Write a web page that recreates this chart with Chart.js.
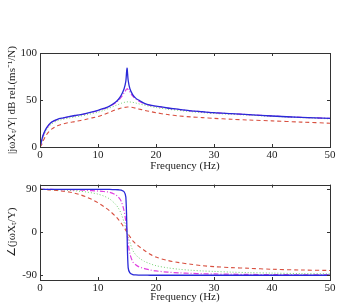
<!DOCTYPE html>
<html>
<head>
<meta charset="utf-8">
<script src="https://cdn.jsdelivr.net/npm/chart.js@4.4.1/dist/chart.umd.min.js"></script>
<style>
  body { margin: 0; background: #fff; }
  canvas { position: absolute; left: 0; }
  #magChart { top: 0; }
  #phaseChart { top: 175px; }
</style>
</head>
<body>
<canvas id="magChart" width="338" height="175"></canvas>
<canvas id="phaseChart" width="338" height="131"></canvas>
<script>
// Frequency points (Hz)
const freq = [0, 0.25, 0.5, 1, 1.5, 2, 3, 4, 5, 6, 7, 8, 9, 10, 11, 12, 13, 13.5, 14, 14.5, 14.8, 15, 15.2, 15.5, 16, 16.5, 17, 18, 19, 20, 22, 24, 26, 28, 30, 33, 36, 40, 45, 50];

// Magnitude, dB
const magBlue = [0, 6, 12, 19, 23.5, 26.5, 29.5, 31, 32.3, 33.5, 34.5, 35.8, 37.3, 39, 41, 43.5, 47.5, 50.5, 55, 62, 70, 84, 71, 62, 55.5, 52, 50, 46.5, 44.5, 43.5, 41.5, 40, 38.5, 37.5, 36.5, 35.5, 34.5, 33, 31.5, 30.5];
const magMagenta = [0, 5.5, 11.5, 18.5, 23, 26, 29.2, 30.8, 32.1, 33.3, 34.3, 35.6, 37.1, 38.8, 40.7, 43.2, 46.8, 49.3, 53, 57.5, 60.5, 62, 61, 58.5, 54, 51, 49, 46, 44.3, 43.3, 41.4, 39.9, 38.4, 37.4, 36.4, 35.4, 34.4, 33, 31.5, 30.5];
const magGreen = [0, 4, 9.5, 17, 21.5, 24.5, 27.8, 29.5, 30.8, 32, 33, 34.2, 35.6, 37, 39, 41.5, 44, 45.2, 46.5, 47.4, 47.8, 48, 48, 47.9, 47.5, 46.8, 46, 44.5, 43.2, 42, 40.2, 38.9, 37.6, 36.6, 35.7, 34.8, 33.9, 32.6, 31.2, 30];
const magRed = [0, 2, 6, 12, 16, 19, 22.5, 24.5, 26, 27, 28.2, 29.5, 31, 32.5, 34.5, 37, 39.5, 40.5, 41.5, 42, 42.3, 42.5, 42.5, 42.4, 42, 41.3, 40.5, 39, 37.7, 36.5, 34.5, 33, 32, 31.3, 30.5, 29.5, 28.7, 27.8, 26.5, 25.3];

// Phase, degrees
const phaseBlue = [90, 90, 90, 90, 90, 90, 90, 90, 90, 90, 90, 90, 90, 90, 90, 89.8, 89.5, 89.2, 88.5, 85, 74, 0, -74, -85, -88.5, -89.3, -89.6, -89.8, -90, -90, -90, -90, -90, -90, -90, -90, -90, -90, -90, -90];
const phaseMagenta = [90, 90, 90, 90, 90, 89.8, 89.7, 89.5, 89.3, 89, 88.6, 88, 87.3, 86.5, 85.5, 84, 79, 74, 65, 45, 22, 0, -22, -45, -62, -68, -72, -76, -79, -81, -83.5, -85, -86, -86.8, -87.3, -87.8, -88.3, -88.8, -89, -89.3];
const phaseGreen = [90, 90, 90, 89.8, 89.6, 89.5, 89, 88.5, 87.8, 87, 86, 84.5, 82.5, 80, 76, 70, 59, 51, 39, 21, 9, 0, -9, -21, -38, -47, -53, -61, -66, -70, -74.5, -77.5, -79.5, -81, -82, -83.5, -84.5, -85.5, -86.5, -87];
const phaseRed = [90, 90, 89.8, 89.5, 89, 88.5, 87.5, 86, 84.5, 82, 78.5, 74, 68.5, 62, 54, 45, 34, 27, 19, 10, 4, 0, -4, -9, -18, -24, -29, -38, -46, -52, -59, -63.5, -67, -70, -72, -74, -75.5, -77.5, -79, -80];

const xTicks = [0, 10, 20, 30, 40, 50];
const magTicks = [0, 50, 100];
const phaseTicks = [-90, 0, 90];

const serif = 'Liberation Serif';
const ink = '#222';

function pts(ys) {
    return freq.map((f, i) => ({ x: f, y: ys[i] }));
}

function makeSets(b, m, g, r) {
    return [
        { data: pts(b), borderColor: '#2a2ad8', borderWidth: 1.3 },
        { data: pts(m), borderColor: '#e040e0', borderWidth: 1.2, borderDash: [5, 2, 1, 2] },
        { data: pts(g), borderColor: '#70d070', borderWidth: 1, borderDash: [1, 2] },
        { data: pts(r), borderColor: '#d85040', borderWidth: 1.1, borderDash: [4, 3] }
    ];
}

// Box round the plot area with inward ticks, MATLAB style
const frame = {
    id: 'frame',
    afterDatasetsDraw(chart) {
        const { ctx, chartArea: a, scales } = chart;
        ctx.save();
        ctx.strokeStyle = '#333';
        ctx.lineWidth = 1;
        ctx.strokeRect(Math.round(a.left) + 0.5, Math.round(a.top) + 0.5,
            Math.round(a.right - a.left), Math.round(a.bottom - a.top));
        ctx.beginPath();
        scales.x.ticks.forEach(t => {
            const px = Math.round(scales.x.getPixelForValue(t.value)) + 0.5;
            ctx.moveTo(px, a.bottom); ctx.lineTo(px, a.bottom - 3);
            ctx.moveTo(px, a.top); ctx.lineTo(px, a.top + 3);
        });
        scales.y.ticks.forEach(t => {
            const py = Math.round(scales.y.getPixelForValue(t.value)) + 0.5;
            ctx.moveTo(a.left, py); ctx.lineTo(a.left + 3, py);
            ctx.moveTo(a.right, py); ctx.lineTo(a.right - 3, py);
        });
        ctx.stroke();
        ctx.restore();
    }
};

function makeOptions(yMin, yMax, yTicks, yTitle, padTop, xHeight) {
    return {
        responsive: false,
        animation: false,
        layout: { padding: { top: padTop, right: 8, left: 6, bottom: 0 } },
        elements: { point: { radius: 0 }, line: { tension: 0.3, fill: false } },
        plugins: { legend: { display: false }, tooltip: { enabled: false } },
        scales: {
            x: {
                type: 'linear', min: 0, max: 50,
                afterBuildTicks: s => { s.ticks = xTicks.map(v => ({ value: v })); },
                afterFit: s => { s.height = xHeight; },
                grid: { display: false, drawTicks: false },
                border: { display: false },
                ticks: { padding: 2, color: ink, font: { family: serif, size: 11 } },
                title: { display: true, text: 'Frequency (Hz)', color: ink,
                    font: { family: serif, size: 11 }, padding: { top: 0, bottom: 2 } }
            },
            y: {
                min: yMin, max: yMax,
                afterBuildTicks: s => { s.ticks = yTicks.map(v => ({ value: v })); },
                afterFit: s => { s.width = 34; },
                grid: { display: false, drawTicks: false },
                border: { display: false },
                ticks: { padding: 3, color: ink, font: { family: serif, size: 11 },
                    callback: v => String(v) },
                title: { display: true, text: yTitle, color: ink,
                    font: { family: serif, size: 11 }, padding: 0 }
            }
        }
    };
}

new Chart(document.getElementById('magChart'), {
    type: 'line',
    data: { datasets: makeSets(magBlue, magMagenta, magGreen, magRed) },
    options: makeOptions(0, 100, magTicks, '|jωXₜ/Y| dB rel.(ms⁻¹/N)', 53, 28),
    plugins: [frame]
});

new Chart(document.getElementById('phaseChart'), {
    type: 'line',
    data: { datasets: makeSets(phaseBlue, phaseMagenta, phaseGreen, phaseRed) },
    options: makeOptions(-100, 100, phaseTicks, '∠(jωXₜ/Y)', 9, 26),
    plugins: [frame]
});
</script>
</body>
</html>
